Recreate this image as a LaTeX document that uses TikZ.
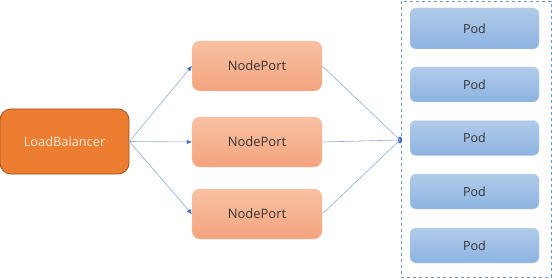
\documentclass[tikz,border=0pt]{standalone}
\usepackage{fontspec}
\setmainfont{Open Sans}
\usetikzlibrary{arrows.meta,shapes.geometric}
\definecolor{lbfill}{HTML}{ED7D31}
\definecolor{lbdraw}{HTML}{9C5220}
\definecolor{nptop}{HTML}{F8C0A2}
\definecolor{npbot}{HTML}{F4A47E}
\definecolor{podtop}{HTML}{B1CBE9}
\definecolor{podbot}{HTML}{8DB3E2}
\definecolor{linec}{HTML}{8FAADC}
\definecolor{arrc}{HTML}{4472C4}
\definecolor{dashc}{HTML}{6A97CF}
\begin{document}
\begin{tikzpicture}[x=1pt,y=-1pt,
  lb/.style={draw=lbdraw,line width=0.8pt,fill=lbfill,rounded corners=11pt,minimum width=129pt,minimum height=65pt,text=white!85!lbfill,font=\fontsize{12.8}{14}\selectfont,inner sep=0pt},
  np/.style={draw=nptop!90!white,line width=0.4pt,top color=nptop,bottom color=npbot,rounded corners=8pt,minimum width=130pt,minimum height=50pt,text=black!80,font=\fontsize{13}{15}\selectfont,inner sep=0pt},
  pod/.style={draw=podtop!80!white,line width=0.4pt,top color=podtop,bottom color=podbot,rounded corners=6pt,minimum width=129pt,text=black!80,font=\fontsize{12.5}{14}\selectfont,inner sep=0pt},
  conn/.style={draw=linec,line width=0.6pt},
  arr/.style={conn,-{Triangle[length=5pt,width=4pt,fill=arrc,color=arrc]}}
]
\useasboundingbox (0,0) rectangle (552,278);
\node[lb] (lb) at (64.5,141.5) {LoadBalancer};
\node[np] (np1) at (257,66) {NodePort};
\node[np] (np2) at (257,142) {NodePort};
\node[np] (np3) at (257,214) {NodePort};
\node[draw=dashc,dashed,line width=0.6pt,minimum width=150pt,minimum height=276pt,inner sep=0pt] (grp) at (476,139) {};
\node[pod,minimum height=41pt] (p1) at (474.5,28.5) {Pod};
\node[pod,minimum height=35pt] (p2) at (474.5,84.5) {Pod};
\node[pod,minimum height=35pt] (p3) at (474.5,138) {Pod};
\node[pod,minimum height=35pt] (p4) at (474.5,191.5) {Pod};
\node[pod,minimum height=35pt] (p5) at (474.5,245.5) {Pod};
\node[ellipse,fill=arrc,minimum width=4.5pt,minimum height=7pt,inner sep=0pt] (dot) at (400,140) {};
\draw[arr] (lb.east) -- (np1.west);
\draw[arr] (lb.east) -- (np2.west);
\draw[arr] (lb.east) -- (np3.west);
\draw[conn] (np1.east) -- (dot.center);
\draw[conn] (np2.east) -- (dot.center);
\draw[conn] (np3.east) -- (dot.center);
\end{tikzpicture}
\end{document}
